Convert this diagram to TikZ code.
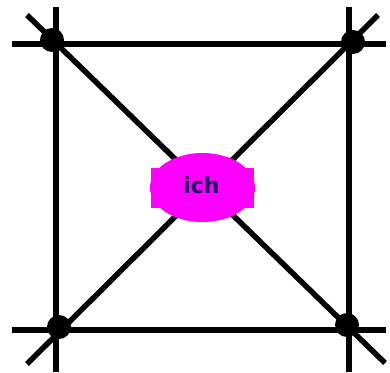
\documentclass[tikz,border=0pt]{standalone}
\usepackage{fontspec}
\newfontfamily\labelfont{DejaVu Sans Bold}
\usetikzlibrary{shapes.geometric}
\definecolor{ichmag}{RGB}{255,0,255}
\definecolor{ichtext}{RGB}{32,0,96}
\begin{document}
\begin{tikzpicture}[x=1pt,y=-1pt,
  edge/.style={line width=5.5pt,draw=black},
  dot/.style={circle,fill=black,inner sep=0pt,minimum size=24pt}]
\useasboundingbox (0,0) rectangle (390,372);
% line end points
\coordinate (hl1) at (12,44);   \coordinate (hr1) at (386,44);
\coordinate (hl2) at (12,330);  \coordinate (hr2) at (386,330);
\coordinate (vt1) at (56,7);    \coordinate (vb1) at (56,372);
\coordinate (vt2) at (349,7);   \coordinate (vb2) at (349,372);
\coordinate (d1a) at (27,15);   \coordinate (d1b) at (385,363);
\coordinate (d2a) at (378,15);  \coordinate (d2b) at (27,364);
\draw[edge] (hl1) -- (hr1);
\draw[edge] (hl2) -- (hr2);
\draw[edge] (vt1) -- (vb1);
\draw[edge] (vt2) -- (vb2);
\draw[edge] (d1a) -- (d1b);
\draw[edge] (d2a) -- (d2b);
% corner dots
\node[dot] (tl) at (52,40) {};
\node[dot] (tr) at (353,42) {};
\node[dot] (bl) at (59,327) {};
\node[dot] (br) at (347,325) {};
% centre node
\fill[ichmag] (151,168) rectangle (254,208);
\node[ellipse,fill=ichmag,minimum width=105pt,minimum height=69pt,inner sep=0pt] (ich) at (202.5,187.5) {};
\node[text=ichtext,font=\labelfont\fontsize{22pt}{22pt}\selectfont,inner sep=0pt] (ichlabel) at (201.5,185.5) {ich};
\end{tikzpicture}
\end{document}
